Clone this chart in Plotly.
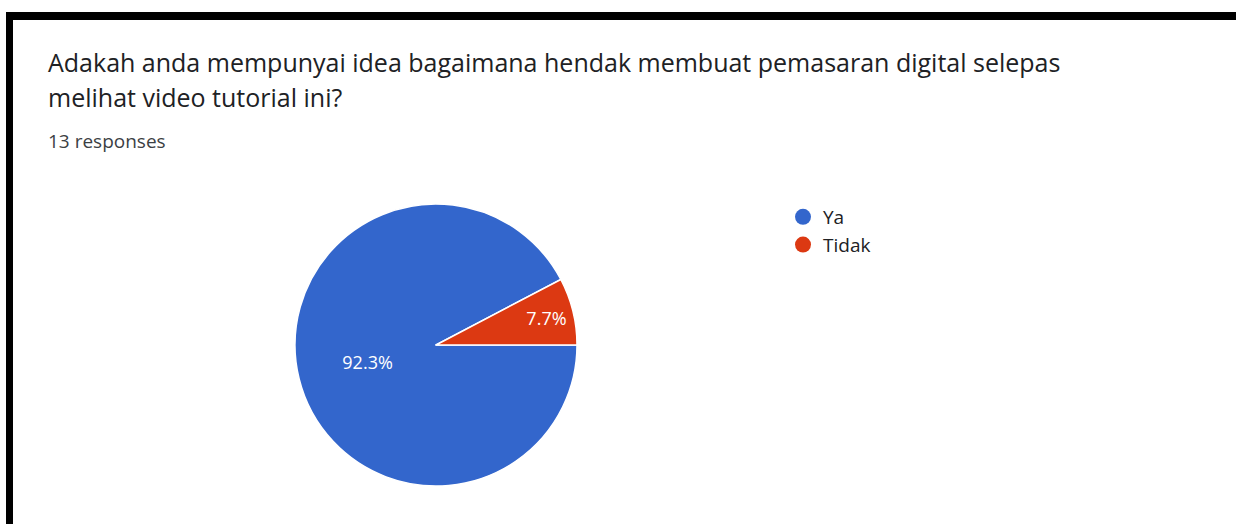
import plotly.graph_objects as go

categories = ["Ya", "Tidak"]
counts = [12, 1]
colors = ["#3366cc", "#dc3912"]
title_lines = [
    "Adakah anda mempunyai idea bagaimana hendak membuat pemasaran digital selepas",
    "melihat video tutorial ini?",
]
subtitle = "13 responses"

W, H = 1236, 524

def px(x):
    return x / W

def py(y):
    return 1 - y / H

fig = go.Figure()
fig.add_trace(go.Pie(
    labels=categories, values=counts, sort=False, direction="clockwise", rotation=90,
    marker=dict(colors=colors, line=dict(color="white", width=1.5)),
    texttemplate="%{percent:.1%}", textposition="inside", insidetextorientation="horizontal",
    textfont=dict(color="white", size=18, family="Open Sans"),
    showlegend=False,
    domain=dict(x=[px(294), px(578)], y=[py(486), py(204)]),
))
for c, col in zip(categories, colors):
    fig.add_trace(go.Scatter(x=[None], y=[None], mode="markers", name=c,
                             marker=dict(color=col, size=18, symbol="circle")))

annotations = []
for i, (line, y) in enumerate(zip(title_lines, [62, 97])):
    annotations.append(dict(text=line, x=px(46), y=py(y), xref="paper", yref="paper",
                            xanchor="left", yanchor="middle", showarrow=False,
                            font=dict(family="Open Sans", size=25, color="#202124")))
annotations.append(dict(text=subtitle, x=px(46), y=py(141), xref="paper", yref="paper",
                        xanchor="left", yanchor="middle", showarrow=False,
                        font=dict(family="Open Sans", size=19, color="#3c4043")))

shapes = [
    dict(type="rect", xref="paper", yref="paper", x0=px(6), x1=1, y0=py(20), y1=py(12),
         fillcolor="black", line=dict(width=0)),
    dict(type="rect", xref="paper", yref="paper", x0=px(6), x1=px(13), y0=0, y1=py(12),
         fillcolor="black", line=dict(width=0)),
]

fig.update_layout(
    width=W, height=H, margin=dict(l=0, r=0, t=0, b=0),
    paper_bgcolor="white", plot_bgcolor="white",
    xaxis=dict(visible=False), yaxis=dict(visible=False),
    legend=dict(x=px(783), y=py(198), xanchor="left", yanchor="top",
                font=dict(family="Open Sans", size=19, color="#202124"),
                itemsizing="trace", bgcolor="rgba(0,0,0,0)", tracegroupgap=0),
    annotations=annotations, shapes=shapes,
)
fig.write_html("out.html", config={"displayModeBar": False},
               post_script="document.body.style.margin='0';")
